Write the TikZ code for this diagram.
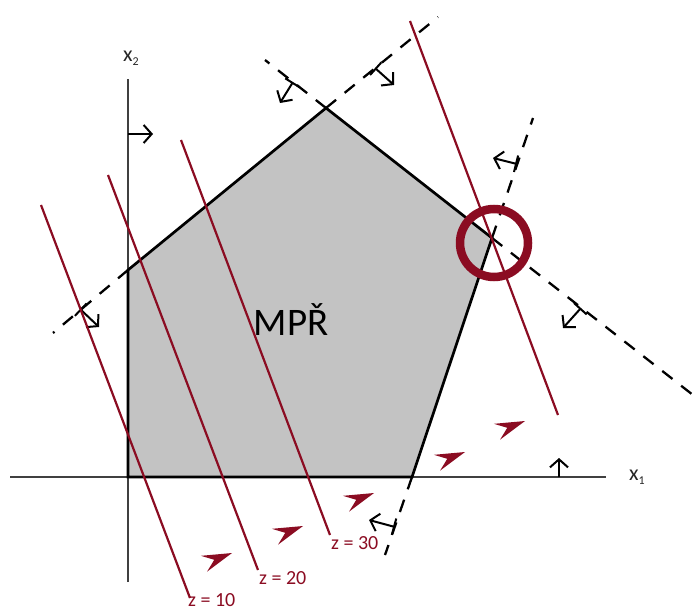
\documentclass[tikz,border=0pt]{standalone}
\usepackage{fontspec}
\setmainfont{Carlito}
\usetikzlibrary{arrows.meta, calc}
\definecolor{zred}{RGB}{139,12,34}
\definecolor{regiongray}{RGB}{195,195,195}
\tikzset{
  axisline/.style={draw=black!75,line width=1.1pt},
  edgeline/.style={draw=black,line width=2.7pt,line join=miter},
  extline/.style={draw=black,line width=2.3pt,dash pattern=on 13pt off 11pt},
  normarr/.style={{Bar[width=17pt]}-{Straight Barb[length=8pt,width=18pt]},line width=2pt},
  plainarr/.style={-{Straight Barb[length=8pt,width=18pt]},line width=2pt},
  levelline/.style={draw=zred,line width=2.2pt},
  lvllabel/.style={text=zred,anchor=north west,inner sep=0pt,font=\fontsize{20}{20}\selectfont},
  axlabel/.style={inner sep=0pt,text=black!85,font=\fontsize{22}{22}\selectfont},
  optring/.style={draw=zred,line width=8.5pt},
  dirhead/.pic={\fill[zred] (0,0) -- (-30,8.5) -- (-19,0) -- (-30,-8.5) -- cycle;}
}

\begin{document}
\begin{tikzpicture}[x=1pt,y=-1pt]
  \useasboundingbox (0,0) rectangle (693,612);

  % Vertices of the region
  \coordinate (O) at (128,477);
  \coordinate (A) at (128,270);
  \coordinate (B) at (326,108);
  \coordinate (C) at (492,238);
  \coordinate (D) at (412,477);

  % Feasible region
  \fill[regiongray] (O) -- (A) -- (B) -- (C) -- (D) -- cycle;

  % Axes
  \draw[axisline] (10,477) -- (606,477);
  \draw[axisline] (128,582) -- (128,79);
  \node[axlabel] (x1lab) at (637,477) {x\raisebox{-4pt}{\fontsize{12}{12}\selectfont 1}};
  \node[axlabel] (x2lab) at (131,58) {x\raisebox{-4pt}{\fontsize{12}{12}\selectfont 2}};

  % Constraint lines (dashed beyond the region)
  \coordinate (l1a) at (53,333);
  \coordinate (l1b) at (438,17);
  \coordinate (l2a) at (265,60);
  \coordinate (l2b) at (693,395);
  \coordinate (l3a) at (533,118);
  \coordinate (l3b) at (385,555);
  \draw[extline] (A) -- (l1a);
  \draw[extline] (B) -- (l1b);
  \draw[extline] (B) -- (l2a);
  \draw[extline] (C) -- (l2b);
  \draw[extline] (C) -- (l3a);
  \draw[extline] (D) -- (l3b);

  \draw[edgeline] (O) -- (A) -- (B) -- (C) -- (D) -- cycle;

  % Feasible side of each constraint
  \draw[normarr] (80,309) -- (99,327);
  \draw[normarr] (293,82) -- (280,103);
  \draw[normarr] (375,68) -- (394,85);
  \draw[normarr] (517,164) -- (493,158);
  \draw[normarr] (581,308) -- (563,328);
  \draw[normarr] (395,527) -- (369,520);
  \draw[plainarr] (128,134) -- (153,134);
  \draw[plainarr] (559,477) -- (559,458);

  \node[font=\fontsize{39}{39}\selectfont,anchor=base] (mpr) at (291,335) {MPŘ};

  % Level lines of z
  \draw[levelline] (41,205) -- (190,598) node[lvllabel,xshift=-3pt,yshift=6pt] (lab10) {z = 10};
  \draw[levelline] (108,175) -- (258,570) node[lvllabel] (lab20) {z = 20};
  \draw[levelline] (181,140) -- (330,535) node[lvllabel] (lab30) {z = 30};
  \draw[levelline] (410,21) -- (558,415);

  % Direction of growth
  \foreach \tip in {(232,553),(303,526),(374,493),(465,452),(525,421)}
    \pic[rotate=21] at \tip {dirhead};

  % Optimum
  \draw[optring] (494,243) circle[radius=34];

\end{tikzpicture}
\end{document}
